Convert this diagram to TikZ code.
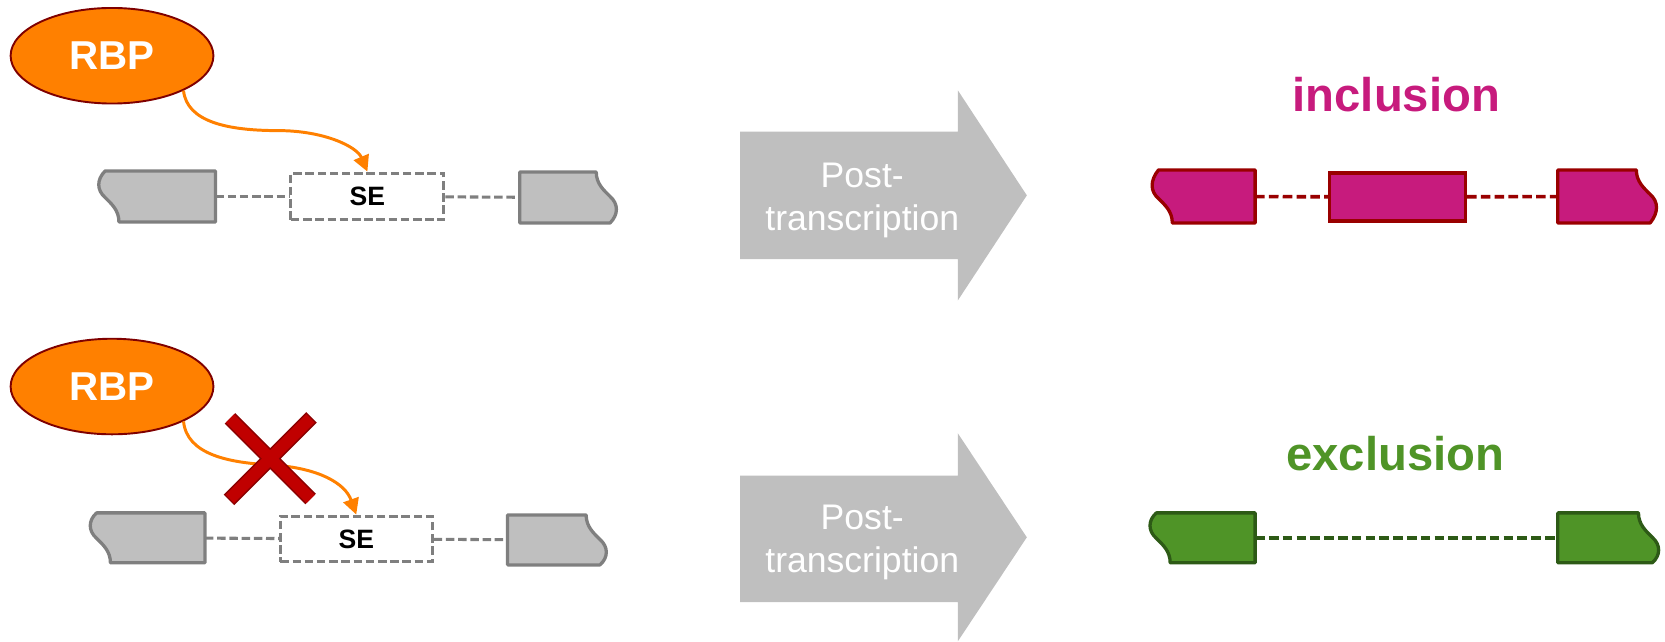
\documentclass[tikz,border=0pt]{standalone}
\usepackage{fontspec}
\setmainfont{Liberation Sans}
\usetikzlibrary{arrows.meta,calc,shapes.geometric}
\definecolor{exgrey}{HTML}{BFBFBF}
\definecolor{exgreyline}{HTML}{7F7F7F}
\definecolor{bigarrowgrey}{HTML}{BFBFBF}
\definecolor{orangeA}{HTML}{FF8000}
\definecolor{rbpborder}{HTML}{7F0000}
\definecolor{magentaA}{HTML}{C71B7D}
\definecolor{darkredA}{HTML}{990000}
\definecolor{greenA}{HTML}{4F9427}
\definecolor{greenB}{HTML}{2D5A16}
\definecolor{xred}{HTML}{C00000}
\definecolor{xdark}{HTML}{8B0000}
\newcommand{\wavyleft}[2]{%
  \path[#2] (#1.north east) -- (#1.south east) -- ($(#1.south west)+(19,0)$)
    .. controls ($(#1.south west)+(19,-11)$) and ($(#1.south west)+(12,-17)$) .. ($(#1.south west)+(6,-23)$)
    .. controls ($(#1.south west)+(-2,-30)$) and ($(#1.south west)+(-2,-40)$) .. ($(#1.north west)+(6,0)$) -- cycle;}
\newcommand{\wavyright}[2]{%
  \path[#2] (#1.south west) -- (#1.north west) -- ($(#1.north east)+(-19,0)$)
    .. controls ($(#1.north east)+(-19,11)$) and ($(#1.north east)+(-12,17)$) .. ($(#1.north east)+(-6,23)$)
    .. controls ($(#1.north east)+(2,30)$) and ($(#1.north east)+(2,40)$) .. ($(#1.south east)+(-6,0)$) -- cycle;}
\begin{document}
\begin{tikzpicture}[x=1pt,y=-1pt,
  anchorbox/.style={rectangle, draw=none, inner sep=0pt, outer sep=0pt},
  greyexon/.style={fill=exgrey, draw=exgreyline, line width=3.1pt, line join=round},
  magexon/.style={fill=magentaA, draw=darkredA, line width=3.1pt, line join=round},
  grnexon/.style={fill=greenA, draw=greenB, line width=3.1pt, line join=round},
  sebox/.style={rectangle, draw=exgreyline, fill=white, line width=2.8pt, dash pattern=on 8pt off 3.5pt, inner sep=0pt, font=\fontsize{25}{30}\selectfont\bfseries},
  gdash/.style={draw=exgreyline, line width=2.9pt, dash pattern=on 8pt off 3.5pt},
  mdash/.style={draw=darkredA, line width=3.4pt, dash pattern=on 9pt off 4pt},
  grdash/.style={draw=greenB, line width=3.4pt, dash pattern=on 9pt off 4pt},
  rbpnode/.style={ellipse, fill=orangeA, draw=rbpborder, line width=1.8pt, minimum width=191pt, minimum height=90pt, inner sep=0pt, text=white, font=\fontsize{38}{44}\selectfont\bfseries},
  rbparrow/.style={draw=orangeA, line width=2.8pt, -{Triangle[length=15pt,width=15pt]}},
  xouter/.style={draw=xdark, line width=14pt, shorten <=-1.2pt, shorten >=-1.2pt},
  xinner/.style={draw=xred, line width=11pt},
  bigarrow/.style={fill=bigarrowgrey},
  posttext/.style={text=white, anchor=base, inner sep=0pt, font=\fontsize{33.5}{40}\selectfont},
  outcome/.style={anchor=base, inner sep=0pt, font=\fontsize{44.5}{52}\selectfont\bfseries}
]
\useasboundingbox (0,0) rectangle (1568,604);

% big grey arrows
\fill[bigarrow] (697,124) -- (902,124) -- (902,85) -- (967,184) -- (902,283) -- (902,244) -- (697,244) -- cycle;
\fill[bigarrow] (697,448) -- (902,448) -- (902,408) -- (967,506) -- (902,604) -- (902,567) -- (697,567) -- cycle;
\node[posttext] (p1a) at (812,177) {Post-};
\node[posttext] (p1b) at (812,217) {transcription};
\node[posttext] (p2a) at (812,499) {Post-};
\node[posttext] (p2b) at (812,539) {transcription};

% outcome labels
\node[outcome, text=magentaA] (incl) at (1315,105) {inclusion};
\node[outcome, text=greenA] (excl) at (1314,443) {exclusion};

% RBP ellipses
\node[rbpnode] (rbp1) at (105.5,52.5) {RBP};
\node[rbpnode] (rbp2) at (105.5,364) {RBP};

% exon anchor boxes
\node[anchorbox, minimum width=110pt, minimum height=48pt] (e1) at (148,185) {};
\node[anchorbox, minimum width=91pt, minimum height=48pt] (e2) at (535,186) {};
\node[anchorbox, minimum width=108pt, minimum height=47pt] (e3) at (139,506.5) {};
\node[anchorbox, minimum width=93pt, minimum height=47pt] (e4) at (524.5,508.5) {};
\node[anchorbox, minimum width=97pt, minimum height=50pt] (m1) at (1133.5,185) {};
\node[anchorbox, minimum width=93pt, minimum height=50pt] (m3) at (1513.5,185) {};
\node[anchorbox, minimum width=99pt, minimum height=47pt] (g1) at (1132.5,506.5) {};
\node[anchorbox, minimum width=95pt, minimum height=47pt] (g2) at (1514.5,506.5) {};

% SE boxes and middle magenta exon
\node[sebox, minimum width=144pt, minimum height=44pt] (se1) at (346,185) {SE};
\node[sebox, minimum width=143pt, minimum height=43pt] (se2) at (335.5,507.5) {SE};
\node[rectangle, fill=magentaA, draw=darkredA, line width=3.1pt, minimum width=128pt, minimum height=45pt, inner sep=0pt] (m2) at (1316,185.5) {};

% intron lines
\draw[gdash] (e1) -- (se1);
\draw[gdash] (se1) -- (e2);
\draw[gdash] (e3) -- (se2);
\draw[gdash] (se2) -- (e4);
\draw[mdash] (m1) -- (m2);
\draw[mdash] (m2) -- (m3);
\draw[grdash] (g1) -- (g2);

% exon shapes
\wavyleft{e1}{greyexon}
\wavyright{e2}{greyexon}
\wavyleft{e3}{greyexon}
\wavyright{e4}{greyexon}
\wavyleft{m1}{magexon}
\wavyright{m3}{magexon}
\wavyleft{g1}{grnexon}
\wavyright{g2}{grnexon}

% RBP binding arrows
\draw[rbparrow] (rbp1.-26) .. controls (176,115) and (215,123) .. (262,123) .. controls (305,123) and (336,138) .. (se1.north);
\draw[rbparrow] (rbp2.-26) .. controls (176,428) and (215,436) .. (258,438) .. controls (300,441) and (325,455) .. (se2.north);

% red cross
\draw[xouter] (216.5,394) -- (292.5,470) (216.5,470) -- (292.5,394);
\draw[xinner] (216.5,394) -- (292.5,470) (216.5,470) -- (292.5,394);
\end{tikzpicture}
\end{document}
